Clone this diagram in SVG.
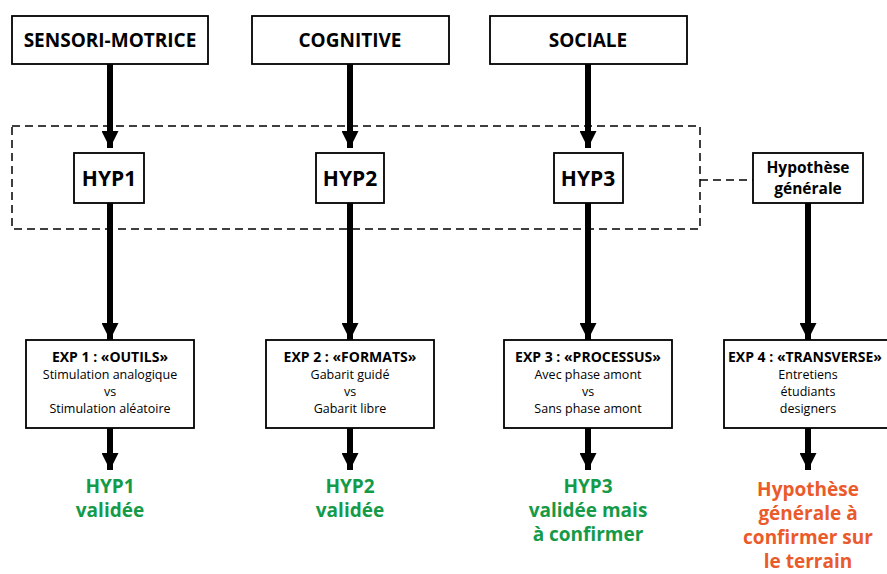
<svg xmlns="http://www.w3.org/2000/svg" width="887" height="574" viewBox="0 0 887 574">
<defs>
<style>
.box{fill:#fff;stroke:#000;stroke-width:1.8}
.t{font-family:"Open Sans","Liberation Sans",sans-serif;text-anchor:middle;fill:#000}
.top{font-size:19px;font-weight:bold}
.hyp{font-size:21px;font-weight:bold}
.hg{font-size:15.5px;font-weight:bold}
.et{font-size:14px;font-weight:bold}
.er{font-size:12.5px}
.res{font-size:19px;font-weight:bold}
.green{fill:#159a48}
.orange{fill:#ea5a2a}
.shaft{stroke:#000;stroke-width:6;fill:none}
.dash{stroke:#000;stroke-width:1.5;fill:none;stroke-dasharray:8 5}
</style>
<marker id="ah" viewBox="0 0 10 10" refX="10" refY="5" markerUnits="userSpaceOnUse" markerWidth="17" markerHeight="17" orient="auto">
<path d="M0,0 L10,5 L0,10 Z" fill="#000"/>
</marker>
</defs>
<rect width="887" height="574" fill="#fff"/>

<g id="connectors">
<line class="shaft" x1="110" y1="64" x2="110" y2="148" marker-end="url(#ah)"/>
<line class="shaft" x1="350" y1="64" x2="350" y2="148" marker-end="url(#ah)"/>
<line class="shaft" x1="588" y1="64" x2="588" y2="148" marker-end="url(#ah)"/>
<line class="shaft" x1="110" y1="203" x2="110" y2="340" marker-end="url(#ah)"/>
<line class="shaft" x1="350" y1="203" x2="350" y2="340" marker-end="url(#ah)"/>
<line class="shaft" x1="588" y1="203" x2="588" y2="340" marker-end="url(#ah)"/>
<line class="shaft" x1="808" y1="203" x2="808" y2="340" marker-end="url(#ah)"/>
<line class="shaft" x1="110" y1="428" x2="110" y2="470" marker-end="url(#ah)"/>
<line class="shaft" x1="350" y1="428" x2="350" y2="470" marker-end="url(#ah)"/>
<line class="shaft" x1="588" y1="428" x2="588" y2="470" marker-end="url(#ah)"/>
<line class="shaft" x1="808" y1="428" x2="808" y2="470" marker-end="url(#ah)"/>
<line class="dash" x1="700" y1="180" x2="753" y2="180"/>
</g>

<g id="group-hyp">
<rect class="dash" x="12" y="126" width="688" height="103"/>
</g>

<g id="sensori">
<rect class="box" x="12" y="16" width="196" height="48"/>
<text class="t top" x="110" y="47">SENSORI-MOTRICE</text>
</g>
<g id="cognitive">
<rect class="box" x="252" y="16" width="197" height="48"/>
<text class="t top" x="350" y="47">COGNITIVE</text>
</g>
<g id="sociale">
<rect class="box" x="490" y="16" width="197" height="48"/>
<text class="t top" x="588" y="47">SOCIALE</text>
</g>

<g id="hyp1">
<rect class="box" x="74" y="153" width="70" height="50"/>
<text class="t hyp" x="109" y="186">HYP1</text>
</g>
<g id="hyp2">
<rect class="box" x="316" y="153" width="68" height="50"/>
<text class="t hyp" x="350" y="186">HYP2</text>
</g>
<g id="hyp3">
<rect class="box" x="554" y="153" width="69" height="50"/>
<text class="t hyp" x="588" y="186">HYP3</text>
</g>
<g id="hyp-generale">
<rect class="box" x="753" y="153" width="110" height="50"/>
<text class="t hg" x="808" y="173">Hypothèse</text>
<text class="t hg" x="808" y="194">générale</text>
</g>

<g id="exp1">
<rect class="box" x="26" y="340" width="168" height="88"/>
<text class="t et" x="110" y="362">EXP 1 : «OUTILS»</text>
<text class="t er" x="110" y="379">Stimulation analogique</text>
<text class="t er" x="110" y="396">vs</text>
<text class="t er" x="110" y="413">Stimulation aléatoire</text>
</g>
<g id="exp2">
<rect class="box" x="266" y="340" width="168" height="88"/>
<text class="t et" x="350" y="362">EXP 2 : «FORMATS»</text>
<text class="t er" x="350" y="379">Gabarit guidé</text>
<text class="t er" x="350" y="396">vs</text>
<text class="t er" x="350" y="413">Gabarit libre</text>
</g>
<g id="exp3">
<rect class="box" x="504" y="340" width="168" height="88"/>
<text class="t et" x="588" y="362">EXP 3 : «PROCESSUS»</text>
<text class="t er" x="588" y="379">Avec phase amont</text>
<text class="t er" x="588" y="396">vs</text>
<text class="t er" x="588" y="413">Sans phase amont</text>
</g>
<g id="exp4">
<rect class="box" x="724" y="340" width="168" height="88"/>
<text class="t et" x="805" y="362">EXP 4 : «TRANSVERSE»</text>
<text class="t er" x="808" y="379">Entretiens</text>
<text class="t er" x="808" y="396">étudiants</text>
<text class="t er" x="808" y="413">designers</text>
</g>

<g id="res1">
<text class="t res green" x="110" y="493">HYP1</text>
<text class="t res green" x="110" y="517">validée</text>
</g>
<g id="res2">
<text class="t res green" x="350" y="493">HYP2</text>
<text class="t res green" x="350" y="517">validée</text>
</g>
<g id="res3">
<text class="t res green" x="588" y="493">HYP3</text>
<text class="t res green" x="588" y="517">validée mais</text>
<text class="t res green" x="588" y="541">à confirmer</text>
</g>
<g id="res4">
<text class="t res orange" x="808" y="496">Hypothèse</text>
<text class="t res orange" x="808" y="520">générale à</text>
<text class="t res orange" x="808" y="544">confirmer sur</text>
<text class="t res orange" x="808" y="568">le terrain</text>
</g>
</svg>
